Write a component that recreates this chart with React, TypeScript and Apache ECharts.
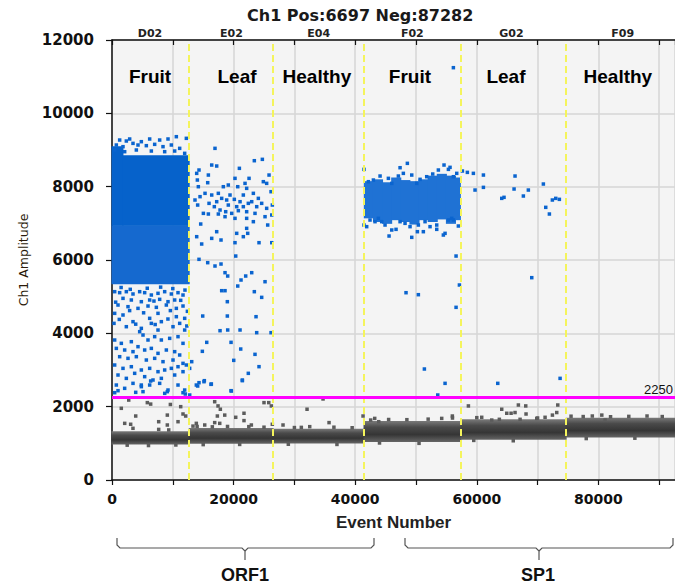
import { useEffect, useRef } from 'react';
import * as echarts from 'echarts';

// Wells along the event axis
const wellNames = ['D02', 'E02', 'E04', 'F02', 'G02', 'F09'];
const wellCenters = [6250, 19650, 34000, 49400, 65700, 84000];
const sampleTypes = ['Fruit', 'Leaf', 'Healthy', 'Fruit', 'Leaf', 'Healthy'];
const sampleLabelX = [6250, 20560, 33700, 49000, 64800, 83200];
const sampleLabelY = 11000;
const wellBoundaries = [12700, 26500, 41450, 57400, 74700];
const threshold = 2250;
const eventMax = 92600;
const amplitudeMax = 12000;
const amplitudeTicks = 2000;
const eventTicks = 10000;

// Dense negative-droplet bands per well: [eventStart, eventEnd, low, high]
const negativeBands: number[][] = [
  [0, 12700, 980, 1330],
  [12700, 26500, 1000, 1420],
  [26500, 41450, 1010, 1400],
  [41450, 57400, 1050, 1610],
  [57400, 74700, 1110, 1655],
  [74700, 92600, 1170, 1700],
];

// Negative droplets lying above the main band
const negativeStrays: number[][] = [
  [2750, 2180], [1530, 1955], [5810, 2110], [6360, 2070], [9600, 2060], [11300, 2000],
  [11680, 1800], [12120, 1745], [16890, 2135], [17440, 2020], [17820, 1930], [18540, 1770],
  [17330, 1745], [21710, 1820], [20350, 1710], [25000, 2110], [25780, 2110], [26210, 2020],
  [32080, 1930], [34710, 2210], [3900, 1745], [9100, 1770], [2090, 1545], [3070, 1520],
  [3450, 1410], [7680, 1590], [9100, 1500], [10860, 1590], [7680, 1380], [9330, 1365],
  [13870, 1545], [13320, 1470], [15250, 1500], [16890, 1565], [17720, 1545], [21710, 1620],
  [22920, 1500], [26370, 1520], [28130, 1500], [31140, 1435], [32520, 1455], [35700, 1565],
  [41290, 1745], [42550, 1635], [43210, 1680], [43870, 1590],
  [58620, 2020], [64100, 1930], [64930, 1820], [65640, 1820], [66290, 1840], [66840, 2045],
  [68050, 2020], [68100, 1800], [67120, 1655], [73320, 2045], [73150, 1840], [72440, 1770],
  [55980, 1745], [54230, 1680], [60810, 1710], [62460, 1635], [63710, 1655], [69860, 1680],
  [71230, 1710], [80560, 1770], [81100, 1635],
  [14000, 1460], [16500, 1450], [19000, 1460], [22500, 1455], [25000, 1440], [30000, 1430],
  [36500, 1440], [39500, 1425], [45500, 1650], [48500, 1645], [52000, 1660], [56000, 1690],
  [60000, 1700], [70000, 1690], [75500, 1740], [77500, 1730], [79000, 1745], [82000, 1725],
  [85000, 1735], [88000, 1745], [90500, 1730],
  [2500, 950], [6000, 940], [10500, 955], [15000, 965], [21000, 970], [29000, 975],
  [37000, 970], [44000, 1010], [50500, 1000], [59500, 1080], [66000, 1070], [78000, 1130],
  [86000, 1140],
];

// Dense positive-droplet clouds: [eventStart, eventEnd, low, high, shade]
const positiveClouds: (number | string)[][] = [
  [0, 12700, 5350, 6950, '#1569cf'],
  [0, 1800, 6950, 9100, '#0662cb'],
  [1800, 12700, 6950, 8860, '#0662cb'],
  [41500, 43000, 7150, 8150, '#1f72d4'],
  [43000, 44500, 7050, 8200, '#1f72d4'],
  [44500, 46000, 7000, 8120, '#1f72d4'],
  [46000, 47500, 7100, 8250, '#1f72d4'],
  [47500, 49000, 7050, 8180, '#1f72d4'],
  [49000, 50500, 6980, 8150, '#1f72d4'],
  [50500, 52000, 7100, 8200, '#1f72d4'],
  [52000, 53500, 7050, 8300, '#1f72d4'],
  [53500, 55000, 7120, 8350, '#1f72d4'],
  [55000, 56500, 7000, 8300, '#1f72d4'],
  [56500, 57300, 7100, 8250, '#1f72d4'],
];

// Positive droplets outside the dense clouds
const positiveDroplets: number[][] = [
  // D02, upper edge
  [1261, 9272], [2358, 9245], [2906, 9300], [4825, 9227], [6196, 9300], [7841, 9272],
  [9212, 9300], [10583, 9363], [12228, 9318], [713, 9136], [1810, 9091], [3455, 9181],
  [4277, 9136], [5648, 9118], [7019, 9154], [8390, 9091], [9761, 9136], [11131, 9045],
  [438, 9000], [2084, 8954], [4004, 9000], [6470, 8972], [8664, 8954], [10309, 8972], [11954, 8909],
  // D02, lower spread
  [1500, 5250], [3000, 5200], [5800, 5230], [8000, 5260], [10000, 5220], [12000, 5180],
  [600, 4850], [2900, 4620], [5200, 4560], [6900, 4880], [9600, 4620], [11300, 4900],
  [12400, 4600], [1200, 4380], [3900, 4250], [7100, 4240], [9200, 4390], [12300, 4200],
  [438, 5136], [1261, 5109], [2358, 5136], [3455, 5073], [4551, 5136], [5374, 5109],
  [6470, 5045], [7567, 5091], [8664, 5136], [9761, 5073], [10857, 5109], [11680, 5045],
  [1810, 4954], [3181, 4909], [4825, 4863], [6196, 4909], [7841, 4927], [9212, 4863],
  [10309, 4909], [987, 4772], [2632, 4727], [4277, 4681], [5922, 4745], [7293, 4709],
  [8938, 4772], [10583, 4681], [11680, 4745], [438, 4545], [1810, 4500], [3455, 4318],
  [6196, 4409], [7567, 4545], [8116, 4318], [10583, 4454], [11954, 4409], [329, 4272],
  [2358, 4181], [4825, 4136], [6470, 4272], [7567, 4090], [10035, 4181], [11131, 4272],
  [11954, 4090], [438, 3818], [1535, 3727], [3181, 3772], [4551, 4045], [5100, 3954],
  [5922, 3818], [7019, 3909], [8116, 3818], [9486, 3863], [10857, 3909], [11680, 3727],
  [713, 3590], [2084, 3545], [3455, 3500], [4277, 3636], [5374, 3545], [6470, 3590],
  [7567, 3454], [8938, 3545], [10309, 3500], [11131, 3409], [1261, 3363], [2632, 3318],
  [4004, 3363], [5648, 3272], [7019, 3318], [8390, 3227], [10035, 3272], [11680, 3181],
  [438, 3136], [1810, 3045], [3181, 3090], [4825, 3000], [6196, 3045], [7567, 2954],
  [8664, 3000], [9761, 3045], [10857, 3090], [12228, 3136], [987, 2863], [2358, 2772],
  [3729, 2909], [5374, 2818], [6745, 2727], [8116, 2772], [10309, 2863], [11680, 2954],
  [12776, 3045], [713, 2590], [2084, 2500], [3455, 2636], [4825, 2545], [6196, 2590],
  [7841, 2636], [9212, 2454], [10857, 2590], [11954, 2454], [987, 2436], [5100, 2409],
  [440, 2381], [3900, 2391], [4820, 2590], [6360, 2700], [8670, 2363], [9100, 2409],
  [11680, 2381], [12060, 2345], [12780, 2318],
  // E02
  [16940, 9045], [16400, 8590], [17220, 8563], [20950, 8500], [23410, 8708], [24730, 8745],
  [25830, 8317], [14310, 8454], [13930, 8363], [15850, 8317], [15740, 8108], [14040, 8181],
  [14200, 7999], [15300, 7818], [14480, 7727], [13650, 7636], [14090, 7499], [15030, 7272],
  [15850, 7254], [17490, 7254], [18700, 7317], [19690, 7272], [20780, 7345], [22150, 7317],
  [23520, 7272], [25170, 7181], [26270, 7227], [25610, 6954], [14590, 6981], [13930, 6636],
  [14750, 6436], [16400, 6590], [17220, 6772], [17930, 6545], [20230, 6472], [20510, 6727],
  [21600, 6636], [22150, 6863], [22320, 6727], [23250, 7045], [24180, 6472], [26270, 6472],
  [17490, 7818], [18310, 7999], [19130, 8045], [20230, 8227], [20680, 7999], [21880, 8090],
  [22150, 7954], [22540, 8227], [23250, 7818], [24070, 7681], [24890, 8136], [25440, 8090],
  [26160, 7863], [16400, 7772], [17220, 7590], [18040, 7681], [18860, 7636], [19410, 7772],
  [20120, 7654], [21060, 7590], [21600, 7772], [22420, 7545], [22980, 7590], [23800, 7454],
  [24620, 7545], [25440, 7409], [26370, 7499], [15960, 7545], [16830, 7454], [19130, 7499],
  [17770, 7363], [20510, 7454], [21600, 7454], [22150, 7136], [20230, 7136], [18590, 7181],
  [14310, 6018], [15740, 5927], [16940, 5836], [17930, 5890], [18590, 5654], [19030, 5563],
  [20350, 6108], [20680, 5290], [21220, 5454], [21990, 5563], [22980, 5654], [25170, 5408],
  [23410, 5136], [24620, 4981], [18040, 5163], [18590, 5163], [18970, 4863], [14920, 4472],
  [18970, 4472], [23690, 4454], [17770, 4072], [19030, 4091], [21060, 4091], [23800, 4018],
  [26160, 4018], [15580, 3754], [19580, 3754], [14860, 3509], [21170, 3572], [23520, 3427],
  [20020, 3263], [24180, 3091], [13110, 3227], [22420, 2909], [21440, 2727], [14310, 2654],
  [14090, 2563], [15190, 2709], [16290, 2609], [19580, 2436], [13870, 2590], [15130, 2681],
  [16340, 2618], [21440, 2709], [19630, 2427],
  // F02 cloud edge
  [41450, 8472], [47380, 8517], [48580, 8636], [54610, 8590], [55330, 8472], [55600, 8527],
  [53680, 8454], [52750, 8345], [51760, 8272], [50670, 8200], [49300, 8317], [47920, 8363],
  [47100, 8290], [45460, 8227], [44090, 8290], [42990, 8181], [42170, 8136], [56700, 8363],
  [56150, 8272], [46010, 8090], [50120, 8090], [42440, 7090], [43260, 7045], [43810, 7136],
  [44910, 6954], [46010, 6818], [45570, 6654], [46720, 6836], [48200, 7000], [49300, 6618],
  [50230, 6772], [51210, 6772], [52310, 6909], [53410, 6954], [54500, 6681], [54780, 6727],
  [55330, 7090], [56150, 7090], [56970, 6927], [49020, 6909], [50390, 6954], [47380, 7045],
  [41890, 6909], [41450, 6954], [44360, 7045], [51490, 7045], [53410, 6836], [55870, 7136],
  // F02 / G02 spread
  [56150, 11245], [48360, 5108], [50390, 5054], [56590, 4709], [51380, 3027], [54780, 2636],
  [53580, 2318], [56590, 6108], [57140, 5318],
  [57630, 8427], [58450, 8390], [59440, 8363], [61090, 8317], [61090, 7981], [59710, 7908],
  [64100, 7681], [64480, 7709], [66130, 7936], [66290, 8290], [67660, 7745], [68480, 7908],
  [70950, 8072], [71340, 7436], [71940, 7254], [72430, 7636], [72990, 7681], [73580, 7654],
  [69040, 5518], [63450, 2636], [73700, 2772],
];

// Rectangle spanning a value range on both axes; widened a hair so
// neighbouring segments join without anti-aliasing seams.
function rectItem(params: any, api: any, fill: any) {
  const topLeft = api.coord([api.value(0), api.value(3)]);
  const bottomRight = api.coord([api.value(1), api.value(2)]);
  return {
    type: 'rect',
    shape: {
      x: topLeft[0] - 0.5,
      y: topLeft[1],
      width: bottomRight[0] - topLeft[0] + 1,
      height: bottomRight[1] - topLeft[1] + 0.5,
    },
    style: { fill },
  };
}

const sansBold = 'DejaVu Sans';
const arial = 'Liberation Sans, Arial, sans-serif';

export default function App() {
  const ref = useRef<HTMLDivElement>(null);

  useEffect(() => {
    const chart = echarts.init(ref.current!, null, { renderer: 'svg' });

    const bandFill = new echarts.graphic.LinearGradient(0, 0, 0, 1, [
      { offset: 0, color: '#7a7a7a' },
      { offset: 0.3, color: '#4a4a4a' },
      { offset: 0.65, color: '#353535' },
      { offset: 1, color: '#666666' },
    ]);

    const braceStyle = { stroke: '#555', lineWidth: 1.2, fill: 'none' };

    const option: any = {
      animation: false,
      backgroundColor: '#ffffff',
      title: {
        text: 'Ch1 Pos:6697 Neg:87282',
        left: 242,
        top: 1,
        textStyle: { fontFamily: sansBold, fontWeight: 'bold', fontSize: 16, color: '#1a1a1a', lineHeight: 18 },
      },
      grid: {
        left: 112,
        right: 0,
        top: 40,
        bottom: 106,
        show: true,
        backgroundColor: '#f4f4f4',
        borderWidth: 0,
      },
      xAxis: [
        {
          type: 'value',
          min: 0,
          max: eventMax,
          interval: eventTicks,
          position: 'bottom',
          axisLine: { show: true, lineStyle: { color: '#111', width: 1.5 } },
          axisTick: { show: true, length: 5, lineStyle: { color: '#111', width: 1.2 } },
          axisLabel: {
            formatter: (v: number) => (v % 20000 === 0 ? String(v) : ''),
            fontFamily: sansBold,
            fontWeight: 'bold',
            fontSize: 14,
            color: '#111',
            margin: 12,
            showMaxLabel: false,
          },
          splitLine: { show: true, lineStyle: { color: '#d6d6d6', width: 1.5 } },
          name: 'Event Number',
          nameLocation: 'middle',
          nameGap: 34,
          nameTextStyle: { fontFamily: arial, fontWeight: 'bold', fontSize: 17, color: '#222' },
        },
        {
          type: 'value',
          min: 0,
          max: eventMax,
          interval: eventTicks,
          position: 'top',
          axisLine: { show: true, lineStyle: { color: '#111', width: 1.5 } },
          axisTick: { show: true, inside: true, length: 5, lineStyle: { color: '#111', width: 1.2 } },
          axisLabel: { show: false },
          splitLine: { show: false },
        },
      ],
      yAxis: {
        type: 'value',
        min: 0,
        max: amplitudeMax,
        interval: amplitudeTicks,
        axisLine: { show: true, lineStyle: { color: '#111', width: 1.5 } },
        axisTick: { show: true, length: 6, lineStyle: { color: '#111', width: 1.2 } },
        axisLabel: {
          formatter: (v: number) => String(v),
          fontFamily: sansBold,
          fontWeight: 'bold',
          fontSize: 15,
          color: '#111',
          margin: 18,
        },
        splitLine: { show: true, lineStyle: { color: '#d6d6d6', width: 1.5 } },
        name: 'Ch1 Amplitude',
        nameLocation: 'middle',
        nameRotate: 90,
        nameGap: 82,
        nameTextStyle: { fontFamily: 'DejaVu Sans', fontSize: 12.5, color: '#2a1a0a' },
      },
      series: [
        {
          type: 'custom',
          name: 'negative bands',
          z: 1,
          encode: { x: [0, 1], y: [2, 3] },
          data: negativeBands,
          renderItem: (params: any, api: any) => rectItem(params, api, bandFill),
          silent: true,
        },
        {
          type: 'scatter',
          name: 'negative strays',
          z: 2,
          symbol: 'rect',
          symbolSize: 3.5,
          itemStyle: { color: '#5c5c5c', opacity: 1 },
          data: negativeStrays,
          silent: true,
        },
        {
          type: 'custom',
          name: 'positive clouds',
          z: 3,
          encode: { x: [0, 1], y: [2, 3] },
          data: positiveClouds,
          renderItem: (params: any, api: any) =>
            rectItem(params, api, positiveClouds[params.dataIndex][4]),
          silent: true,
        },
        {
          type: 'scatter',
          name: 'positive droplets',
          z: 4,
          symbol: 'rect',
          symbolSize: 3.5,
          itemStyle: { color: '#0a64cf', opacity: 1 },
          data: positiveDroplets,
          silent: true,
        },
        {
          type: 'scatter',
          name: 'wells',
          z: 6,
          clip: false,
          symbolSize: 0,
          itemStyle: { color: 'transparent', opacity: 1 },
          data: wellNames.map((n, i) => ({ name: n, value: [wellCenters[i], amplitudeMax] })),
          label: {
            show: true,
            position: 'top',
            distance: 1,
            formatter: '{b}',
            fontFamily: sansBold,
            fontWeight: 'bold',
            fontSize: 11,
            lineHeight: 12,
            color: '#222',
          },
          silent: true,
        },
        {
          type: 'scatter',
          name: 'samples',
          z: 6,
          symbolSize: 0,
          itemStyle: { color: 'transparent', opacity: 1 },
          data: sampleTypes.map((n, i) => ({ name: n, value: [sampleLabelX[i], sampleLabelY] })),
          label: {
            show: true,
            position: 'inside',
            formatter: '{b}',
            fontFamily: arial,
            fontWeight: 'bold',
            fontSize: 19,
            color: '#000',
            textBorderWidth: 0,
          },
          silent: true,
        },
        {
          type: 'scatter',
          name: 'guides',
          z: 5,
          data: [],
          markLine: {
            silent: true,
            symbol: 'none',
            animation: false,
            data: [
              ...wellBoundaries.map((x) => ({
                xAxis: x,
                lineStyle: { color: '#f4f45c', width: 2, type: [7, 4] },
                label: { show: false },
              })),
              {
                yAxis: threshold,
                lineStyle: { color: '#ff00ff', width: 3, type: 'solid' },
                label: {
                  show: true,
                  position: 'insideEndTop',
                  formatter: String(threshold),
                  fontFamily: arial,
                  fontSize: 13,
                  color: '#111',
                  distance: 2,
                },
              },
            ],
          },
        },
      ],
      graphic: [
        {
          type: 'polyline',
          shape: { points: [[117, 538], [117, 545], [120, 548], [242, 548], [245, 551], [245, 560]] },
          style: braceStyle,
        },
        {
          type: 'polyline',
          shape: { points: [[245, 551], [248, 548], [371, 548], [374, 545], [374, 538]] },
          style: braceStyle,
        },
        {
          type: 'polyline',
          shape: { points: [[405, 538], [405, 545], [408, 548], [536, 548], [539, 551], [539, 560]] },
          style: braceStyle,
        },
        {
          type: 'polyline',
          shape: { points: [[539, 551], [542, 548], [670, 548], [673, 545], [673, 538]] },
          style: braceStyle,
        },
        {
          type: 'text',
          style: {
            text: 'ORF1',
            x: 245,
            y: 575,
            align: 'center',
            verticalAlign: 'middle',
            fontFamily: arial,
            fontWeight: 'bold',
            fontSize: 18,
            fill: '#111',
          },
        },
        {
          type: 'text',
          style: {
            text: 'SP1',
            x: 538,
            y: 575,
            align: 'center',
            verticalAlign: 'middle',
            fontFamily: arial,
            fontWeight: 'bold',
            fontSize: 18,
            fill: '#111',
          },
        },
      ],
    };

    chart.setOption(option);
    return () => chart.dispose();
  }, []);

  return (
    <div
      ref={ref}
      style={{ position: 'fixed', left: 0, top: 0, width: 675, height: 586, background: '#fff' }}
    />
  );
}
